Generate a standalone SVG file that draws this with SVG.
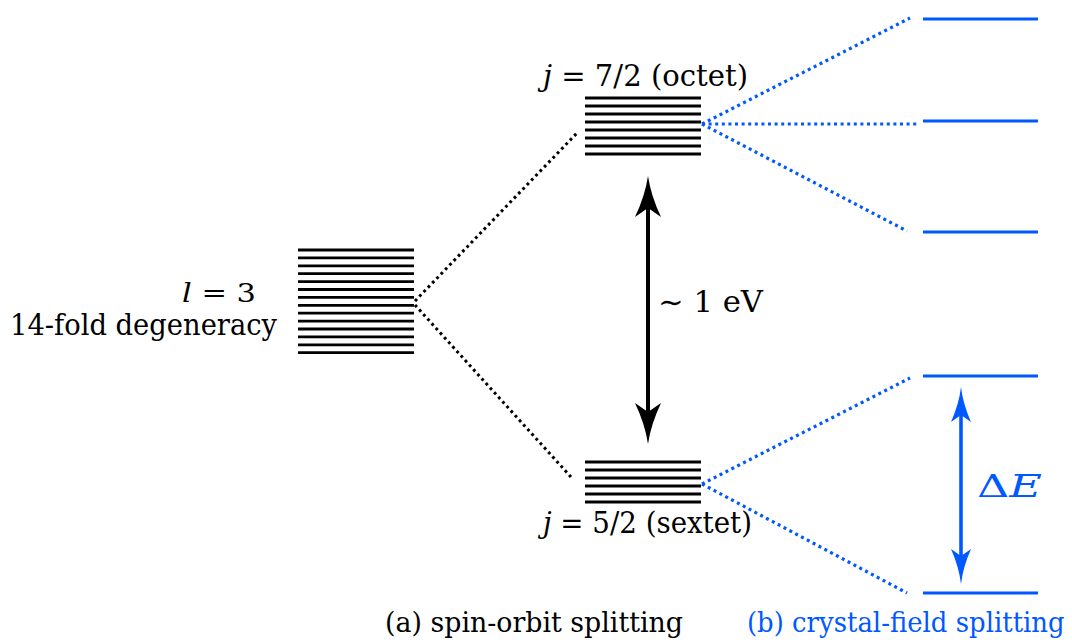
<svg xmlns="http://www.w3.org/2000/svg" width="1072" height="643" viewBox="0 0 1072 643">
<style>
.lv{stroke:#000;stroke-width:2.8;fill:none}
.bl{stroke:#0058ff;stroke-width:3;fill:none}
.dk{stroke:#000;stroke-width:3;stroke-dasharray:2.8 3.4;fill:none}
.db{stroke:#0058ff;stroke-width:3.2;stroke-dasharray:3 3.6;fill:none}
.t{font-family:'DejaVu Serif','Noto Serif','Liberation Serif',Georgia,serif;font-size:29px;fill:#000;font-weight:normal}
.cap{font-size:28px}
.it{font-style:italic}
.blue{fill:#0058ff}
</style>
<rect width="1072" height="643" fill="#fff"/>
<g id="connectors">
<line class="dk" x1="415" y1="301" x2="578" y2="132"/>
<line class="dk" x1="415" y1="305" x2="571" y2="477"/>
<line class="db" x1="702" y1="124" x2="910" y2="18"/>
<line class="db" x1="702" y1="124" x2="917" y2="124"/>
<line class="db" x1="702" y1="124" x2="907" y2="231"/>
<line class="db" x1="702" y1="484" x2="910" y2="378"/>
<line class="db" x1="702" y1="484" x2="907" y2="593"/>
</g>
<g id="l3">
<path class="lv" d="M298,250H414M298,257.9H414M298,265.8H414M298,273.7H414M298,281.6H414M298,289.5H414M298,297.4H414M298,305.3H414M298,313.2H414M298,321.1H414M298,329H414M298,336.9H414M298,344.8H414M298,352.7H414"/>
<text class="t" x="182" y="302" textLength="74" lengthAdjust="spacingAndGlyphs" style="font-size:26px"><tspan class="it">l</tspan> = 3</text>
<text class="t" x="10" y="335" textLength="267" lengthAdjust="spacingAndGlyphs">14-fold degeneracy</text>
</g>
<g id="octet">
<path class="lv" d="M585,98H701M585,106H701M585,114H701M585,122H701M585,130H701M585,138H701M585,146H701M585,154H701"/>
<text class="t" x="543" y="86" textLength="205" lengthAdjust="spacingAndGlyphs"><tspan class="it">j</tspan> = 7/2  (octet)</text>
</g>
<g id="sextet">
<path class="lv" d="M585,462H701M585,470H701M585,478H701M585,486H701M585,494H701M585,502H701"/>
<text class="t" x="543" y="533" textLength="209" lengthAdjust="spacingAndGlyphs"><tspan class="it">j</tspan> = 5/2 (sextet)</text>
</g>
<g id="so-arrow">
<line x1="648" y1="205" x2="648" y2="415" stroke="#000" stroke-width="4"/>
<path d="M648,176Q651,196 661,217L648,208L635,217Q645,196 648,176Z" fill="#000"/>
<path d="M648,444Q651,424 661,403L648,412L635,403Q645,424 648,444Z" fill="#000"/>
<text class="t" x="658" y="312" textLength="105" lengthAdjust="spacingAndGlyphs">∼ 1  eV</text>
</g>
<g id="cf-levels">
<path class="bl" d="M923,19H1038M923,121H1038M923,232H1038M923,376H1038M923,593H1038"/>
</g>
<g id="cf-arrow">
<line x1="961" y1="410" x2="961" y2="560" stroke="#0058ff" stroke-width="3.6"/>
<path d="M961,387Q963,404 971,422L961,415L951,422Q959,404 961,387Z" fill="#0058ff"/>
<path d="M961,584Q963,567 971,549L961,556L951,549Q959,567 961,584Z" fill="#0058ff"/>
<text class="t blue" x="977" y="497" style="font-size:32px" textLength="65" lengthAdjust="spacingAndGlyphs">Δ<tspan class="it">E</tspan></text>
</g>
<g id="captions">
<text class="t cap" x="385" y="632" textLength="298" lengthAdjust="spacingAndGlyphs">(a) spin-orbit splitting</text>
<text class="t cap blue" transform="translate(747,632) scale(0.76,1)" x="0" y="0" textLength="418" lengthAdjust="spacingAndGlyphs">(b) crystal-field splitting</text>
</g>
</svg>
